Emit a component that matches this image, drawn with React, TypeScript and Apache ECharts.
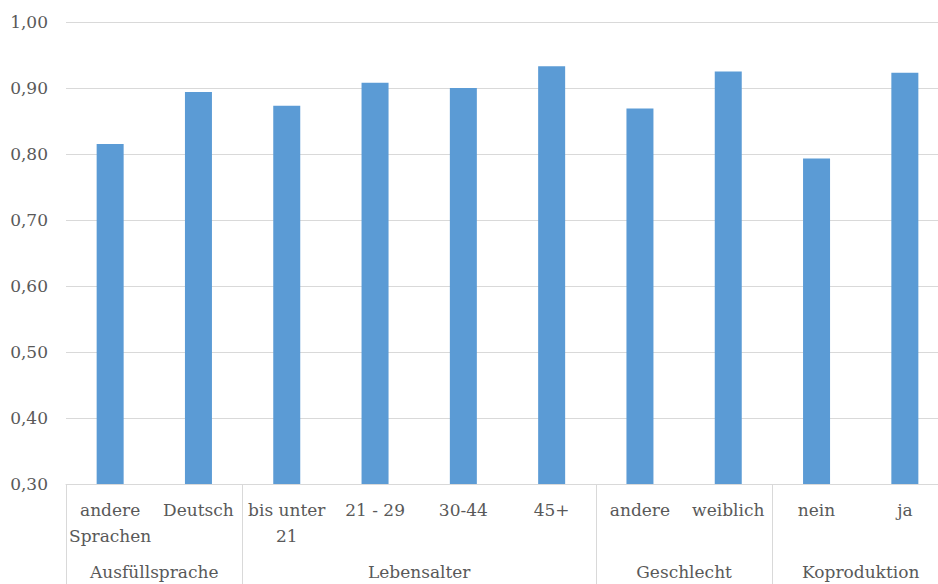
import React, { useEffect, useRef } from "react";
import * as echarts from "echarts";

const categories = [
  "andere\nSprachen",
  "Deutsch",
  "bis unter\n21",
  "21 - 29",
  "30-44",
  "45+",
  "andere",
  "weiblich",
  "nein",
  "ja",
];
const values = [0.815, 0.894, 0.873, 0.908, 0.9, 0.933, 0.869, 0.925, 0.793, 0.923];
const groupNames = ["Ausfüllsprache", "Lebensalter", "Geschlecht", "Koproduktion"];
const groupCenters = [1, 4, 7, 9];
const groupBounds = [0, 2, 6, 8, 10];

const FONT = "DejaVu Serif";
const TEXT = "#595959";
const LINE = "#d9d9d9";

export default function App() {
  const ref = useRef<HTMLDivElement>(null);
  useEffect(() => {
    if (!ref.current) return;
    const chart = echarts.init(ref.current, undefined, { renderer: "svg" });
    chart.setOption({
      animation: false,
      backgroundColor: "#ffffff",
      textStyle: { fontFamily: FONT },
      grid: { left: 66, top: 22, right: 0, bottom: 100, containLabel: false },
      xAxis: [
        {
          type: "category",
          data: categories,
          position: "bottom",
          axisLine: { show: true, lineStyle: { color: LINE, width: 1 } },
          axisTick: { show: false },
          axisLabel: {
            interval: 0,
            color: TEXT,
            fontFamily: FONT,
            fontSize: 17,
            lineHeight: 26,
            margin: 13,
          },
          splitLine: { show: false },
        },
        {
          type: "value",
          min: 0,
          max: 10,
          position: "bottom",
          offset: 0,
          axisLine: { show: false },
          axisTick: {
            show: true,
            customValues: groupBounds,
            length: 100,
            lineStyle: { color: LINE, width: 1 },
          },
          axisLabel: {
            show: true,
            customValues: groupCenters,
            formatter: (v: number) => {
              const i = groupCenters.indexOf(Math.round(v));
              return i >= 0 ? groupNames[i] : "";
            },
            color: TEXT,
            fontFamily: FONT,
            fontSize: 17,
            margin: 79,
          },
          splitLine: { show: false },
        },
      ],
      yAxis: {
        type: "value",
        min: 0.3,
        max: 1.0,
        interval: 0.1,
        axisLine: { show: false },
        axisTick: { show: false },
        axisLabel: {
          color: TEXT,
          fontFamily: FONT,
          fontSize: 17,
          margin: 18,
          formatter: (v: number) => v.toFixed(2).replace(".", ","),
        },
        splitLine: { show: true, lineStyle: { color: LINE, width: 1 } },
      },
      series: [
        {
          type: "bar",
          xAxisIndex: 0,
          data: values,
          barWidth: 27,
          itemStyle: { color: "#5b9bd5" },
        },
      ],
    });
    return () => chart.dispose();
  }, []);
  return (
    <div style={{ position: "fixed", left: 0, top: 0, width: 938, height: 584, overflow: "hidden", background: "#fff" }}>
      <div ref={ref} style={{ position: "absolute", left: 0, top: 0, width: 949, height: 584 }} />
    </div>
  );
}
